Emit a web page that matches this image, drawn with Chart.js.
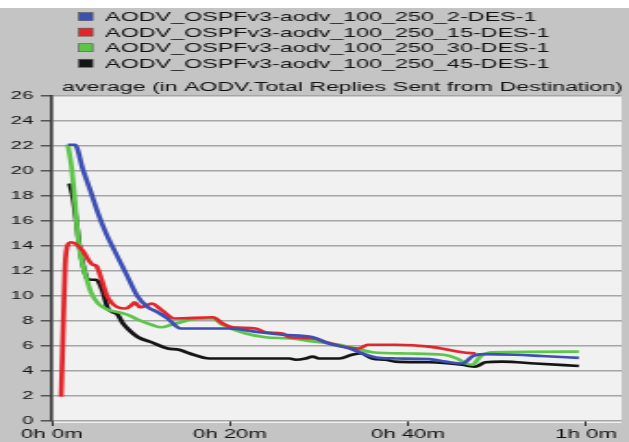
<!DOCTYPE html>
<html><head><meta charset="utf-8">
<script src="https://cdn.jsdelivr.net/npm/chart.js@4.4.1/dist/chart.umd.min.js"></script>
<style>
html,body{margin:0;padding:0;background:#c4c4c4;overflow:hidden;width:629px;height:442px;}
#wrap{position:absolute;left:0;top:0;width:340px;height:442px;transform:scaleX(1.85);transform-origin:0 0;}
canvas{display:block;}
</style></head><body>
<div id="wrap"><canvas id="c" width="340" height="442"></canvas></div>
<script>
// ---- data (x in minutes) ----
const seriesLabels = [
  "AODV_OSPFv3-aodv_100_250_2-DES-1",
  "AODV_OSPFv3-aodv_100_250_15-DES-1",
  "AODV_OSPFv3-aodv_100_250_30-DES-1",
  "AODV_OSPFv3-aodv_100_250_45-DES-1"
];
const chartTitle = "average (in AODV.Total Replies Sent from Destination)";

const blueT = [1.8,2.6,3.5,4.3,5.2,6.1,7.2,8.4,9.6,10.8,11.9,13.0,14.5,19.9,23.3,25.9,29.3,31.1,33.5,34.9,36.7,38.6,42.4,44.2,46.1,47.3,48.5,52,55,59.2];
const blueV = [22.1,22.1,20.1,18.5,16.6,15.0,13.4,11.7,10.0,9.1,8.7,8.2,7.4,7.4,7.1,6.9,6.7,6.2,5.8,5.4,5.05,5.0,4.95,4.75,4.6,5.2,5.35,5.3,5.2,5.05];

const redT = [1.05,1.3,1.5,1.8,2.2,2.8,3.5,4.2,4.6,5.0,5.6,6.2,6.8,7.4,8.3,9.0,9.3,9.9,10.5,11.2,12.3,13.8,18.1,19.2,20.3,22.9,24.0,25.9,26.7,29.3,30.8,33.0,34.5,35.5,38.6,42.4,46.1,47.6];
const redV = [1.95,8.0,12.5,14.1,14.3,14.1,13.6,12.8,12.5,12.4,11.3,10.0,9.4,9.1,9.0,9.3,9.5,9.1,9.2,9.4,8.9,8.2,8.3,7.8,7.5,7.4,7.1,7.0,6.7,6.6,6.3,5.9,5.8,6.1,6.1,5.95,5.5,5.4];

const greenT = [1.8,2.2,2.6,2.9,3.3,3.9,4.4,5.2,6.3,7.5,8.5,9.7,11.2,12.3,13.4,14.5,15.5,18.1,19.2,21.8,24.0,26.7,30.0,32.3,34.1,36.0,40.0,44.0,45.5,46.5,47.2,48.2,49.5,59.2];
const greenV = [22.1,20.4,17.5,15.0,13.0,11.4,10.3,9.4,8.9,8.7,8.5,8.1,7.7,7.5,7.7,7.9,8.1,8.2,7.7,7.0,6.7,6.6,6.3,6.1,5.8,5.5,5.4,5.3,5.0,4.6,4.5,5.2,5.5,5.55];

const blackT = [2.0,2.4,2.75,3.1,3.5,3.9,4.3,5.0,5.7,6.3,6.9,7.4,8.0,8.5,9.7,11.2,13.0,14.3,15.5,17.7,26.7,27.4,28.5,29.3,30.0,32.3,33.7,34.7,36.0,37.5,38.6,42.4,46.1,47.6,48.7,50.6,54.3,59.2];
const blackV = [19.0,17.8,16.0,14.0,12.5,11.5,11.3,11.3,10.4,9.0,8.7,8.5,7.8,7.4,6.7,6.3,5.8,5.7,5.4,5.0,5.0,4.9,5.0,5.15,5.0,5.0,5.3,5.4,5.0,4.9,4.75,4.7,4.5,4.35,4.7,4.75,4.6,4.4];

const xTickValues = [0,20,40,60];
const xTickLabels = ["0h 0m","0h 20m","0h 40m","1h 0m"];
const yMin = 0, yMax = 26, yStep = 2;

// ---- styles ----
const colors = ["#3d4fb3","#e3262b","#5cc64a","#141414"];
const FONT = "'Liberation Sans', Arial, sans-serif";

function pts(t, v){ return t.map((x,i)=>({x:x, y:v[i]})); }
const seriesData = [pts(blueT,blueV), pts(redT,redV), pts(greenT,greenV), pts(blackT,blackV)];

const bgPlugin = {
  id:'bg',
  beforeDraw(chart){
    const c = chart.ctx, a = chart.chartArea;
    c.save();
    c.fillStyle = '#c4c4c4';
    c.fillRect(0,0,chart.width,chart.height);
    c.fillStyle = '#ffffff';
    c.fillRect(0,0,chart.width,8);
    c.fillStyle = '#f1f1f1';
    c.fillRect(a.left, a.top, a.right-a.left, a.bottom-a.top+2);
    c.restore();
  }
};

const legendTitlePlugin = {
  id:'legTitle',
  afterDraw(chart){
    const c = chart.ctx;
    c.save();
    c.font = "12.6px " + FONT;
    c.textBaseline = 'alphabetic';
    c.textAlign = 'left';
    chart.data.datasets.forEach((ds,i)=>{
      const yb = 21.2 + i*15.55;
      c.fillStyle = ds.borderColor;
      c.fillRect(42.5, yb-8.6, 7.6, 8);
      c.strokeStyle = '#555';
      c.lineWidth = 0.6;
      c.strokeRect(42.5, yb-8.6, 7.6, 8);
      c.fillStyle = '#111';
      c.fillText(ds.label, 56.8, yb);
    });
    c.font = "12.5px " + FONT;
    c.fillStyle = '#111';
    c.fillText(chartTitle, 33.5, 90.5);
    c.restore();
  }
};

new Chart(document.getElementById('c'), {
  type:'line',
  data:{
    datasets: seriesLabels.map((lab,i)=>({
      label: lab,
      data: seriesData[i],
      borderColor: colors[i],
      backgroundColor: colors[i],
      borderWidth: 2.7,
      pointRadius: 0,
      fill: false,
      cubicInterpolationMode: 'monotone'
    }))
  },
  options:{
    responsive:false,
    animation:false,
    devicePixelRatio:1,
    layout:{padding:{top:96,right:4,left:0,bottom:0}},
    plugins:{legend:{display:false}, title:{display:false}, tooltip:{enabled:false}},
    scales:{
      x:{
        type:'linear', min:0, max:64,
        afterBuildTicks(s){ s.ticks = xTickValues.map(v=>({value:v})); },
        afterFit(s){ s.height = 21; },
        grid:{drawOnChartArea:false, drawTicks:true, tickLength:5, tickColor:'#333', lineWidth:1},
        border:{display:false},
        ticks:{
          autoSkip:false, maxRotation:0, padding:1,
          color:'#111', font:{family:FONT, size:12},
          callback(v){ const k = xTickValues.indexOf(v); return k>=0 ? xTickLabels[k] : ''; }
        }
      },
      y:{
        min:yMin, max:yMax,
        afterFit(s){ s.width = 28; },
        grid:{color:'#a6a6a6', lineWidth:1.5, tickLength:6, tickColor:'#555'},
        border:{color:'#333', width:1.6},
        ticks:{stepSize:yStep, padding:4, color:'#111', font:{family:FONT, size:11}}
      }
    }
  },
  plugins:[bgPlugin, legendTitlePlugin]
});
</script>
</body></html>
